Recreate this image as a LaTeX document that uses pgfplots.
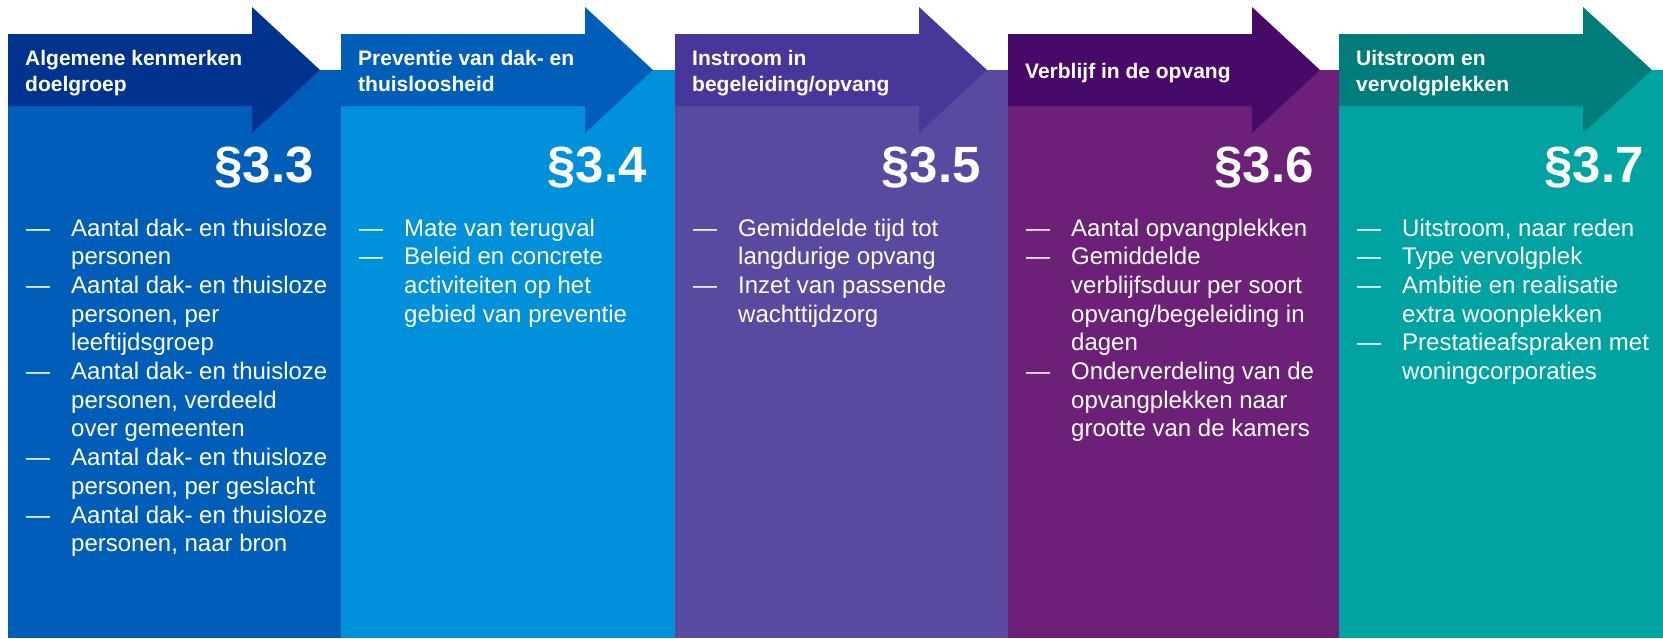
\documentclass[border=0pt]{standalone}
\usepackage{pgfplots}
\pgfplotsset{compat=1.18}
\usepackage{fontspec}
\setmainfont{Liberation Sans}
\definecolor{hA}{HTML}{00338D}\definecolor{bA}{HTML}{005EB8}
\definecolor{hB}{HTML}{005EB8}\definecolor{bB}{HTML}{0091DA}
\definecolor{hC}{HTML}{483698}\definecolor{bC}{HTML}{5A4A9F}
\definecolor{hD}{HTML}{470A68}\definecolor{bD}{HTML}{6D2077}
\definecolor{hE}{HTML}{007C7A}\definecolor{bE}{HTML}{00A3A1}
\newcommand{\bodyfont}{\fontsize{24}{29}\selectfont}
\newcommand{\headfont}{\fontsize{21}{26}\selectfont\bfseries}
\newcommand{\parfont}{\fontsize{51}{60}\selectfont\bfseries}
% body line: x, y, text
\newcommand{\bl}[3]{\node[anchor=base west,inner sep=0pt,text=white,font=\bodyfont] at (axis cs:#1,#2) {#3};}
\newcommand{\hl}[3]{\node[anchor=base west,inner sep=0pt,text=white,font=\headfont] at (axis cs:#1,#2) {#3};}
\newcommand{\pl}[3]{\node[anchor=base east,inner sep=0pt,text=white,font=\parfont] at (axis cs:#1,#2) {#3};}
\begin{document}
\begin{tikzpicture}
\begin{axis}[width=1663pt,height=638pt,scale only axis,
  xmin=0,xmax=1663,ymin=0,ymax=638,y dir=reverse,hide axis]
% panel bodies
\addplot[fill=bA,draw=none] coordinates {(8,70) (341,70) (341,638) (8,638)} --cycle;
\addplot[fill=bB,draw=none] coordinates {(341,70) (675,70) (675,638) (341,638)} --cycle;
\addplot[fill=bC,draw=none] coordinates {(675,70) (1008,70) (1008,638) (675,638)} --cycle;
\addplot[fill=bD,draw=none] coordinates {(1008,70) (1339,70) (1339,638) (1008,638)} --cycle;
\addplot[fill=bE,draw=none] coordinates {(1339,70) (1663,70) (1663,638) (1339,638)} --cycle;
% header arrows
\addplot[fill=hA,draw=none] coordinates {(8,34) (252,34) (252,7) (320,70) (252,133) (252,106) (8,106)} --cycle;
\addplot[fill=hB,draw=none] coordinates {(341,34) (585,34) (585,7) (653,70) (585,133) (585,106) (341,106)} --cycle;
\addplot[fill=hC,draw=none] coordinates {(675,34) (919,34) (919,7) (987,70) (919,133) (919,106) (675,106)} --cycle;
\addplot[fill=hD,draw=none] coordinates {(1008,34) (1252,34) (1252,7) (1320,70) (1252,133) (1252,106) (1008,106)} --cycle;
\addplot[fill=hE,draw=none] coordinates {(1339,34) (1583,34) (1583,7) (1652,70) (1583,133) (1583,106) (1339,106)} --cycle;
% header texts
\hl{25}{65}{Algemene kenmerken}
\hl{25}{91}{doelgroep}
\hl{358}{65}{Preventie van dak- en}
\hl{358}{91}{thuisloosheid}
\hl{692}{65}{Instroom in}
\hl{692}{91}{begeleiding/opvang}
\hl{1025}{78}{Verblijf in de opvang}
\hl{1356}{65}{Uitstroom en}
\hl{1356}{91}{vervolgplekken}
% paragraph numbers
\pl{314}{182}{§3.3}
\pl{647}{182}{§3.4}
\pl{981}{182}{§3.5}
\pl{1314}{182}{§3.6}
\pl{1644}{182}{§3.7}
% panel 1
\bl{26}{236}{—}\bl{71}{236}{Aantal dak- en thuisloze}
\bl{71}{264.7}{personen}
\bl{26}{293.4}{—}\bl{71}{293.4}{Aantal dak- en thuisloze}
\bl{71}{322.1}{personen, per}
\bl{71}{350.8}{leeftijdsgroep}
\bl{26}{379.5}{—}\bl{71}{379.5}{Aantal dak- en thuisloze}
\bl{71}{408.2}{personen, verdeeld}
\bl{71}{436.9}{over gemeenten}
\bl{26}{465.6}{—}\bl{71}{465.6}{Aantal dak- en thuisloze}
\bl{71}{494.3}{personen, per geslacht}
\bl{26}{523}{—}\bl{71}{523}{Aantal dak- en thuisloze}
\bl{71}{551.7}{personen, naar bron}
% panel 2
\bl{359}{236}{—}\bl{404}{236}{Mate van terugval}
\bl{359}{264.7}{—}\bl{404}{264.7}{Beleid en concrete}
\bl{404}{293.4}{activiteiten op het}
\bl{404}{322.1}{gebied van preventie}
% panel 3
\bl{693}{236}{—}\bl{738}{236}{Gemiddelde tijd tot}
\bl{738}{264.7}{langdurige opvang}
\bl{693}{293.4}{—}\bl{738}{293.4}{Inzet van passende}
\bl{738}{322.1}{wachttijdzorg}
% panel 4
\bl{1026}{236}{—}\bl{1071}{236}{Aantal opvangplekken}
\bl{1026}{264.7}{—}\bl{1071}{264.7}{Gemiddelde}
\bl{1071}{293.4}{verblijfsduur per soort}
\bl{1071}{322.1}{opvang/begeleiding in}
\bl{1071}{350.8}{dagen}
\bl{1026}{379.5}{—}\bl{1071}{379.5}{Onderverdeling van de}
\bl{1071}{408.2}{opvangplekken naar}
\bl{1071}{436.9}{grootte van de kamers}
% panel 5
\bl{1357}{236}{—}\bl{1402}{236}{Uitstroom, naar reden}
\bl{1357}{264.7}{—}\bl{1402}{264.7}{Type vervolgplek}
\bl{1357}{293.4}{—}\bl{1402}{293.4}{Ambitie en realisatie}
\bl{1402}{322.1}{extra woonplekken}
\bl{1357}{350.8}{—}\bl{1402}{350.8}{Prestatieafspraken met}
\bl{1402}{379.5}{woningcorporaties}
\end{axis}
\path (current axis.south west) rectangle (current axis.north east);
\end{tikzpicture}
\end{document}
